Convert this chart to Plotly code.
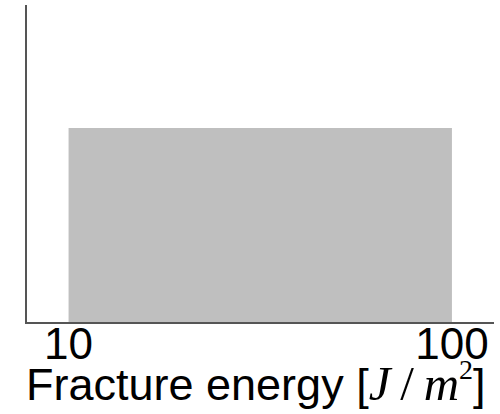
import plotly.graph_objects as go

# Data
bin_edges = [10, 100]          # fracture energy range [J/m^2]
bin_height = [1.0]             # relative (uniform) density
tick_vals = [10, 100]
tick_text = ["10", "100"]
x_title = ("Fracture energy [<span style='font-family:Liberation Serif;font-size:49px'>"
           "<i>J</i>\u2009/\u2009<i>m</i><sup><span style='font-size:28px'>2</span></sup></span>]")

xs = [bin_edges[0], bin_edges[0], bin_edges[1], bin_edges[1], bin_edges[0]]
ys = [0, bin_height[0], bin_height[0], 0, 0]

fig = go.Figure()
fig.add_trace(go.Scatter(
    x=xs, y=ys, mode="lines", fill="toself",
    fillcolor="#bfbfbf", line=dict(width=0, color="#bfbfbf"),
    hoverinfo="skip", showlegend=False,
))

fig.add_annotation(
    text=x_title, xref="paper", yref="paper", x=0.5, y=0,
    xanchor="center", yanchor="top", xshift=-5, yshift=-30,
    showarrow=False, font=dict(size=45, color="black"),
)

fig.update_layout(
    width=500, height=414,
    margin=dict(l=27, r=6, t=5, b=92, autoexpand=False),
    paper_bgcolor="white", plot_bgcolor="white",
    font=dict(family="Liberation Sans, Arial, sans-serif", color="black", size=44),
    xaxis=dict(
        type="log", range=[0.8916, 2.1097],
        tickvals=tick_vals, ticktext=tick_text,
        ticks="", showgrid=False, zeroline=False,
        showline=True, linecolor="#555555", linewidth=1.5,
        tickfont=dict(size=44), ticklabelstandoff=-18, automargin=False,
    ),
    yaxis=dict(
        range=[0, 1.634], showticklabels=False, ticks="",
        showgrid=False, zeroline=False, automargin=False,
        showline=True, linecolor="#555555", linewidth=1.5,
    ),
)

fig.write_html("out.html")
